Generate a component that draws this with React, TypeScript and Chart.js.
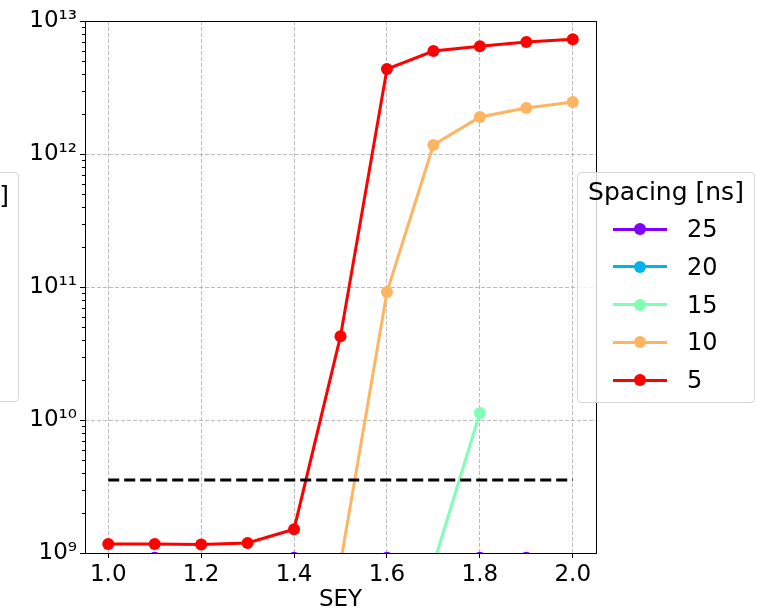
import React, { useEffect, useRef } from "react";
import { Chart, registerables } from "chart.js";

Chart.register(...registerables);

// ---- data ----
const seyValues = [1.0, 1.1, 1.2, 1.3, 1.4, 1.5, 1.6, 1.7, 1.8, 1.9, 2.0];
const spacingLabels = ["25", "20", "15", "10", "5"];
const spacingColors = ["#8000ff", "#00b4eb", "#80ffb4", "#ffb462", "#ff0000"];

const series25: (number | null)[] = [null, 9.2e8, null, null, 9.2e8, null, 9.2e8, null, 9.2e8, 9.2e8, null];
const series20: (number | null)[] = [null, null, null, null, null, null, null, null, null, null, null];
const series15: (number | null)[] = [null, null, null, null, null, null, null, 8.2e8, 1.13e10, null, null];
const series10: (number | null)[] = [null, null, null, null, null, 8.4e8, 9.16e10, 1.17e12, 1.9e12, 2.22e12, 2.46e12];
const series5: (number | null)[] = [1.17e9, 1.17e9, 1.16e9, 1.19e9, 1.51e9, 4.27e10, 4.35e12, 5.94e12, 6.46e12, 6.95e12, 7.3e12];
const allSeries = [series25, series20, series15, series10, series5];

const thresholdX = [1.0, 2.0];
const thresholdY = 3.54e9;

const xTicks = [1.0, 1.2, 1.4, 1.6, 1.8, 2.0];
const yExponents = [9, 10, 11, 12, 13];

const FONT = "'DejaVu Sans', sans-serif";
const SUP = "⁰¹²³⁴⁵⁶⁷⁸⁹";
const sup = (n: number) => String(n).split("").map((d) => SUP[+d]).join("");

const framePlugin = {
  id: "frame",
  afterDraw(chart: any) {
    const { ctx, chartArea: a, scales } = chart;
    ctx.save();
    ctx.strokeStyle = "#000";
    ctx.lineWidth = 1;
    // minor ticks on log axis
    for (let e = 9; e < 13; e++) {
      for (let m = 2; m <= 9; m++) {
        const y = Math.round(scales.y.getPixelForValue(m * Math.pow(10, e))) + 0.5;
        ctx.beginPath();
        ctx.moveTo(a.left - 3, y);
        ctx.lineTo(a.left, y);
        ctx.stroke();
      }
    }
    ctx.strokeRect(Math.round(a.left) + 0.5, Math.round(a.top) + 0.5, Math.round(a.right - a.left), Math.round(a.bottom - a.top));
    ctx.restore();
  },
};

export default function App() {
  const ref = useRef<HTMLCanvasElement>(null);

  useEffect(() => {
    const lineSets = allSeries
      .map((s, i) => ({
        label: spacingLabels[i],
        data: seyValues.map((x, j) => ({ x, y: s[j] })),
        borderColor: spacingColors[i],
        backgroundColor: spacingColors[i],
        borderWidth: 3,
        pointRadius: 6,
        pointHoverRadius: 6,
        pointBorderWidth: 0,
        spanGaps: false,
        clip: 0,
      }))
      .reverse();

    const chart = new Chart(ref.current as HTMLCanvasElement, {
      type: "line",
      data: {
        datasets: [
          {
            label: "threshold",
            data: thresholdX.map((x) => ({ x, y: thresholdY })),
            borderColor: "#000",
            borderWidth: 3,
            borderDash: [11, 5],
            pointRadius: 0,
            clip: 0,
          },
          ...lineSets,
        ] as any,
      },
      options: {
        animation: false,
        responsive: false,
        events: [],
        layout: { padding: { left: 0, top: 21, right: 161, bottom: 0 } },
        plugins: { legend: { display: false }, tooltip: { enabled: false } },
        scales: {
          x: {
            type: "linear",
            min: 0.95,
            max: 2.05,
            afterBuildTicks: (s: any) => {
              s.ticks = xTicks.map((v) => ({ value: v }));
            },
            afterFit: (s: any) => {
              s.height = 61;
            },
            ticks: {
              autoSkip: false,
              maxRotation: 0,
              padding: 3,
              color: "#000",
              font: { family: FONT, size: 23 },
              callback: (v: any) => Number(v).toFixed(1),
            },
            grid: {
              color: "rgba(176,176,176,0.85)",
              lineWidth: 1,
              tickColor: "#000",
              tickLength: 5,
            },
            border: { display: false, dash: [4, 2] },
            title: {
              display: true,
              text: "SEY",
              color: "#000",
              font: { family: FONT, size: 23 },
              padding: { top: 0, bottom: 0 },
            },
          },
          y: {
            type: "logarithmic",
            min: 1e9,
            max: 1e13,
            afterBuildTicks: (s: any) => {
              s.ticks = yExponents.map((e) => ({ value: Math.pow(10, e) }));
            },
            afterFit: (s: any) => {
              s.width = 85;
            },
            ticks: {
              autoSkip: false,
              padding: 3,
              color: "#000",
              font: { family: FONT, size: 23 },
              callback: (v: any) => "10" + sup(Math.round(Math.log10(Number(v)))),
            },
            grid: {
              color: "rgba(176,176,176,0.85)",
              lineWidth: 1,
              tickColor: "#000",
              tickLength: 5,
            },
            border: { display: false, dash: [4, 2] },
          },
        },
      },
      plugins: [framePlugin],
    });
    return () => chart.destroy();
  }, []);

  const rowY = (i: number) => 229 + i * 37.75;

  return (
    <div style={{ position: "absolute", left: 0, top: 0, width: 757, height: 614, overflow: "hidden", background: "#fff", fontFamily: FONT }}>
      <canvas ref={ref} width={757} height={614} style={{ position: "absolute", left: 0, top: 0 }} />
      {/* cut-off legend on the left */}
      <div
        style={{
          position: "absolute",
          left: -200,
          top: 172,
          width: 219,
          height: 230,
          border: "1px solid #d6d6d6",
          borderRadius: 4,
          background: "rgba(255,255,255,0.8)",
          boxSizing: "border-box",
        }}
      >
        <div style={{ position: "absolute", right: 9, top: 8, fontSize: 25, lineHeight: "30px", color: "#000" }}>]</div>
      </div>
      {/* right legend */}
      <div
        style={{
          position: "absolute",
          left: 577,
          top: 172,
          width: 178,
          height: 231,
          border: "1px solid #d6d6d6",
          borderRadius: 4,
          background: "rgba(255,255,255,0.8)",
          boxSizing: "border-box",
        }}
      />
      <div style={{ position: "absolute", left: 577, width: 178, top: 177, textAlign: "center", fontSize: 25, lineHeight: "30px", color: "#000" }}>
        Spacing [ns]
      </div>
      {spacingLabels.map((lab, i) => (
        <React.Fragment key={lab}>
          <div style={{ position: "absolute", left: 613, width: 54, top: rowY(i) - 1.5, height: 3, background: spacingColors[i] }} />
          <div style={{ position: "absolute", left: 634, width: 12, height: 12, top: rowY(i) - 6, borderRadius: "50%", background: spacingColors[i] }} />
          <div style={{ position: "absolute", left: 687, top: rowY(i) - 14, fontSize: 24, lineHeight: "28px", color: "#000" }}>{lab}</div>
        </React.Fragment>
      ))}
    </div>
  );
}
